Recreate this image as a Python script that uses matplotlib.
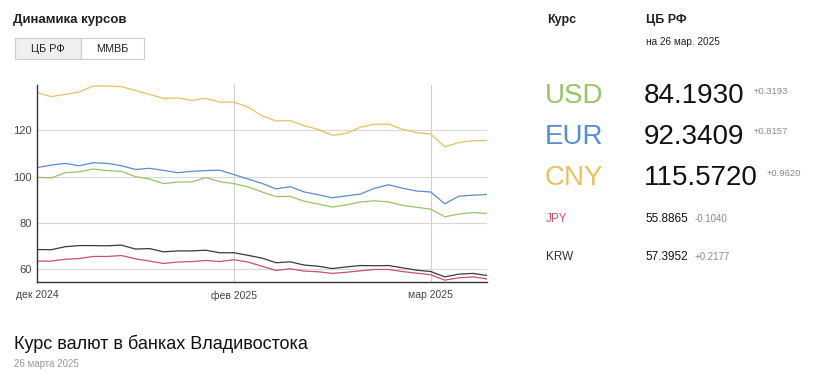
import matplotlib
matplotlib.use("Agg")
import matplotlib.pyplot as plt
from matplotlib.patches import Rectangle

plt.rcParams['font.family'] = ['Liberation Sans', 'DejaVu Sans']

# ---- data ----
month_labels = ["дек 2024", "фев 2025", "мар 2025"]
month_index = [0, 14, 28]

cny = [136.2, 134.5, 135.4, 136.5, 139.1, 139.1, 138.8, 137.1, 135.5, 133.7, 133.9,
       132.9, 133.7, 132.1, 132.1, 130.0, 126.2, 124.0, 124.2, 121.9, 120.4, 117.8,
       118.7, 121.3, 122.6, 122.6, 120.4, 119.0, 118.3, 112.9, 114.7, 115.5, 115.6]
eur = [103.9, 105.0, 105.7, 104.7, 106.0, 105.7, 104.7, 103.1, 103.6, 102.7, 101.7,
       102.3, 102.6, 102.8, 100.9, 99.0, 97.1, 94.7, 95.7, 93.4, 92.2, 90.9,
       91.7, 92.5, 95.0, 96.5, 95.0, 93.8, 93.4, 88.3, 91.6, 92.0, 92.3]
usd = [99.7, 99.4, 101.7, 102.1, 103.3, 102.6, 102.3, 100.0, 99.0, 97.0, 97.7,
       97.7, 99.6, 97.8, 97.0, 95.6, 93.4, 91.4, 91.5, 89.4, 88.2, 86.9,
       87.8, 89.1, 89.6, 89.1, 87.6, 86.8, 86.0, 82.7, 83.9, 84.5, 84.2]
krw = [68.6, 68.5, 69.8, 70.3, 70.3, 70.2, 70.5, 68.8, 69.0, 67.6, 68.0,
       68.0, 68.3, 67.2, 67.2, 66.1, 64.9, 62.9, 63.3, 61.9, 61.4, 60.4,
       61.1, 61.7, 61.6, 61.7, 60.7, 59.7, 59.1, 56.8, 58.0, 58.3, 57.4]
jpy = [63.6, 63.6, 64.4, 64.7, 65.6, 65.6, 66.0, 64.6, 63.6, 62.6, 63.2,
       63.4, 63.9, 63.4, 64.2, 63.2, 61.4, 59.6, 60.3, 59.3, 59.0, 58.3,
       58.8, 59.4, 60.0, 60.0, 59.1, 58.4, 57.7, 55.4, 56.4, 56.8, 55.9]

codes = ["USD", "EUR", "CNY", "JPY", "KRW"]
rates = ["84.1930", "92.3409", "115.5720", "55.8865", "57.3952"]
changes = ["+0.3193", "+0.8157", "+0.9620", "-0.1040", "+0.2177"]

c_usd = "#96c467"
c_eur = "#5a8cd0"
c_cny = "#e8c160"
c_jpy = "#c9506c"
c_krw = "#3a3a3a"

W, H = 818, 380
fig = plt.figure(figsize=(W / 100, H / 100), dpi=100)

def fx(x):
    return x / W

def fy(y):
    return 1 - y / H

ax = fig.add_axes([fx(37), fy(282), (487 - 37) / W, (282 - 85) / H])
x = list(range(len(cny)))
ax.plot(x, cny, color=c_cny, lw=0.9)
ax.plot(x, eur, color=c_eur, lw=0.9)
ax.plot(x, usd, color=c_usd, lw=0.9)
ax.plot(x, krw, color=c_krw, lw=0.9)
ax.plot(x, jpy, color=c_jpy, lw=0.9)
ax.set_xlim(0, len(cny) - 1)
ax.set_ylim(54.6, 139.5)
ax.set_yticks([60, 80, 100, 120])
ax.set_xticks(month_index)
ax.set_xticklabels(month_labels)
ax.grid(True, axis='y', color='#d8d8d8', lw=0.8)
for xi in month_index[1:]:
    ax.axvline(xi, color='#cfcfcf', lw=0.8, zorder=0)
ax.set_axisbelow(True)
for s in ['top', 'right']:
    ax.spines[s].set_visible(False)
ax.spines['left'].set_color('#333333')
ax.spines['bottom'].set_color('#333333')
ax.spines['left'].set_linewidth(1.0)
ax.spines['bottom'].set_linewidth(1.0)
ax.tick_params(axis='both', length=0, colors='#444444')
ax.tick_params(axis='y', pad=4, labelsize=8)
ax.tick_params(axis='x', pad=6, labelsize=7.5)

# header left
fig.text(fx(13), fy(20), "Динамика курсов", fontsize=9.5, fontweight='bold',
         color='#222222', va='center')
fig.add_artist(Rectangle((fx(15), fy(59)), (81 - 15) / W, (59 - 38) / H,
                         transform=fig.transFigure, facecolor='#efefef',
                         edgecolor='#cccccc', lw=0.8))
fig.add_artist(Rectangle((fx(81), fy(59)), (144 - 81) / W, (59 - 38) / H,
                         transform=fig.transFigure, facecolor='white',
                         edgecolor='#cccccc', lw=0.8))
fig.text(fx(48), fy(48.5), "ЦБ РФ", fontsize=7.8, color='#222222',
         ha='center', va='center')
fig.text(fx(112.5), fy(48.5), "ММВБ", fontsize=7.8, color='#222222',
         ha='center', va='center')

# right panel
fig.text(fx(547), fy(20), "Курс", fontsize=9, fontweight='bold', color='#222222', va='center')
fig.text(fx(646), fy(20), "ЦБ РФ", fontsize=9, fontweight='bold', color='#222222', va='center')
fig.text(fx(646), fy(42), "на 26 мар. 2025", fontsize=7.2, color='#222222', va='center')

big_cols = [c_usd, c_eur, c_cny]
big_y = [96, 137, 178]
for code, rate, col, yy in zip(codes[:3], rates[:3], big_cols, big_y):
    fig.text(fx(545), fy(yy), code, fontsize=20, color=col, va='center')
    fig.text(fx(644), fy(yy), rate, fontsize=20, color='#111111', va='center')
small_chg_x = [754, 754, 767]
for chg, xx, yy in zip(changes[:3], small_chg_x, big_y):
    fig.text(fx(xx), fy(yy - 5), chg, fontsize=6.8, color='#8a8a8a', va='center')

small_cols = [c_jpy, '#333333']
small_y = [219, 257]
small_chg_x2 = [695, 695]
for code, rate, chg, col, yy, cx in zip(codes[3:], rates[3:], changes[3:], small_cols,
                                         small_y, small_chg_x2):
    fig.text(fx(546), fy(yy), code, fontsize=8.5, color=col, va='center')
    fig.text(fx(645), fy(yy), rate, fontsize=8.5, color='#111111', va='center')
    fig.text(fx(cx), fy(yy), chg, fontsize=7, color='#8a8a8a', va='center')

# bottom
fig.text(fx(14), fy(344), "Курс валют в банках Владивостока", fontsize=13,
         color='#111111', va='center')
fig.text(fx(14), fy(364), "26 марта 2025", fontsize=7, color='#999999', va='center')

fig.savefig("out.png", dpi=100, facecolor='white')
